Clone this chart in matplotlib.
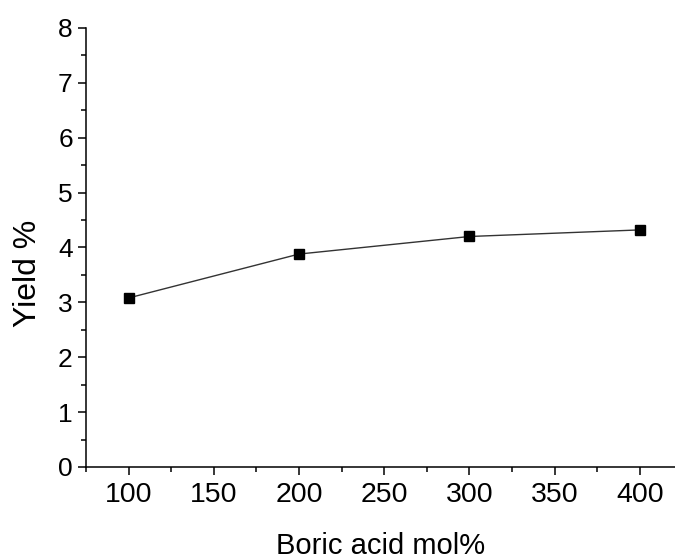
import matplotlib
matplotlib.use("Agg")
import matplotlib.pyplot as plt
from matplotlib.ticker import MultipleLocator

# data
boric_acid = [100, 200, 300, 400]
yield_pct = [3.08, 3.88, 4.20, 4.32]


def main():
    plt.rcParams['font.family'] = ['Liberation Sans', 'DejaVu Sans']

    fig = plt.figure(figsize=(6.75, 5.59), dpi=100)
    ax = fig.add_axes([0.1274, 0.1646, 0.8726, 0.7854])

    ax.plot(boric_acid, yield_pct, color='#333333', lw=1.0,
            marker='s', markersize=7, markerfacecolor='black',
            markeredgecolor='black', zorder=3)

    ax.set_xlim(75, 420.6)
    ax.set_ylim(0, 8)
    ax.xaxis.set_major_locator(MultipleLocator(50))
    ax.xaxis.set_minor_locator(MultipleLocator(25))
    ax.yaxis.set_major_locator(MultipleLocator(1))
    ax.yaxis.set_minor_locator(MultipleLocator(0.5))

    # only left and bottom axis lines
    for side in ['top', 'right']:
        ax.spines[side].set_visible(False)
    for side in ['left', 'bottom']:
        ax.spines[side].set_linewidth(1.1)

    ax.tick_params(which='major', direction='out', length=6, width=1.1)
    ax.tick_params(which='minor', direction='out', length=3.6, width=1.1)
    ax.tick_params(axis='x', labelsize=20.5, pad=5)
    ax.tick_params(axis='y', labelsize=19, pad=3.5)

    ax.set_xlabel('Boric acid mol%', fontsize=21, labelpad=17)
    ax.set_ylabel('Yield %', fontsize=23)
    ax.yaxis.set_label_coords(-0.073, 0.442)

    fig.savefig('out.png', dpi=100)
    plt.close(fig)


if __name__ == "__main__":
    main()
